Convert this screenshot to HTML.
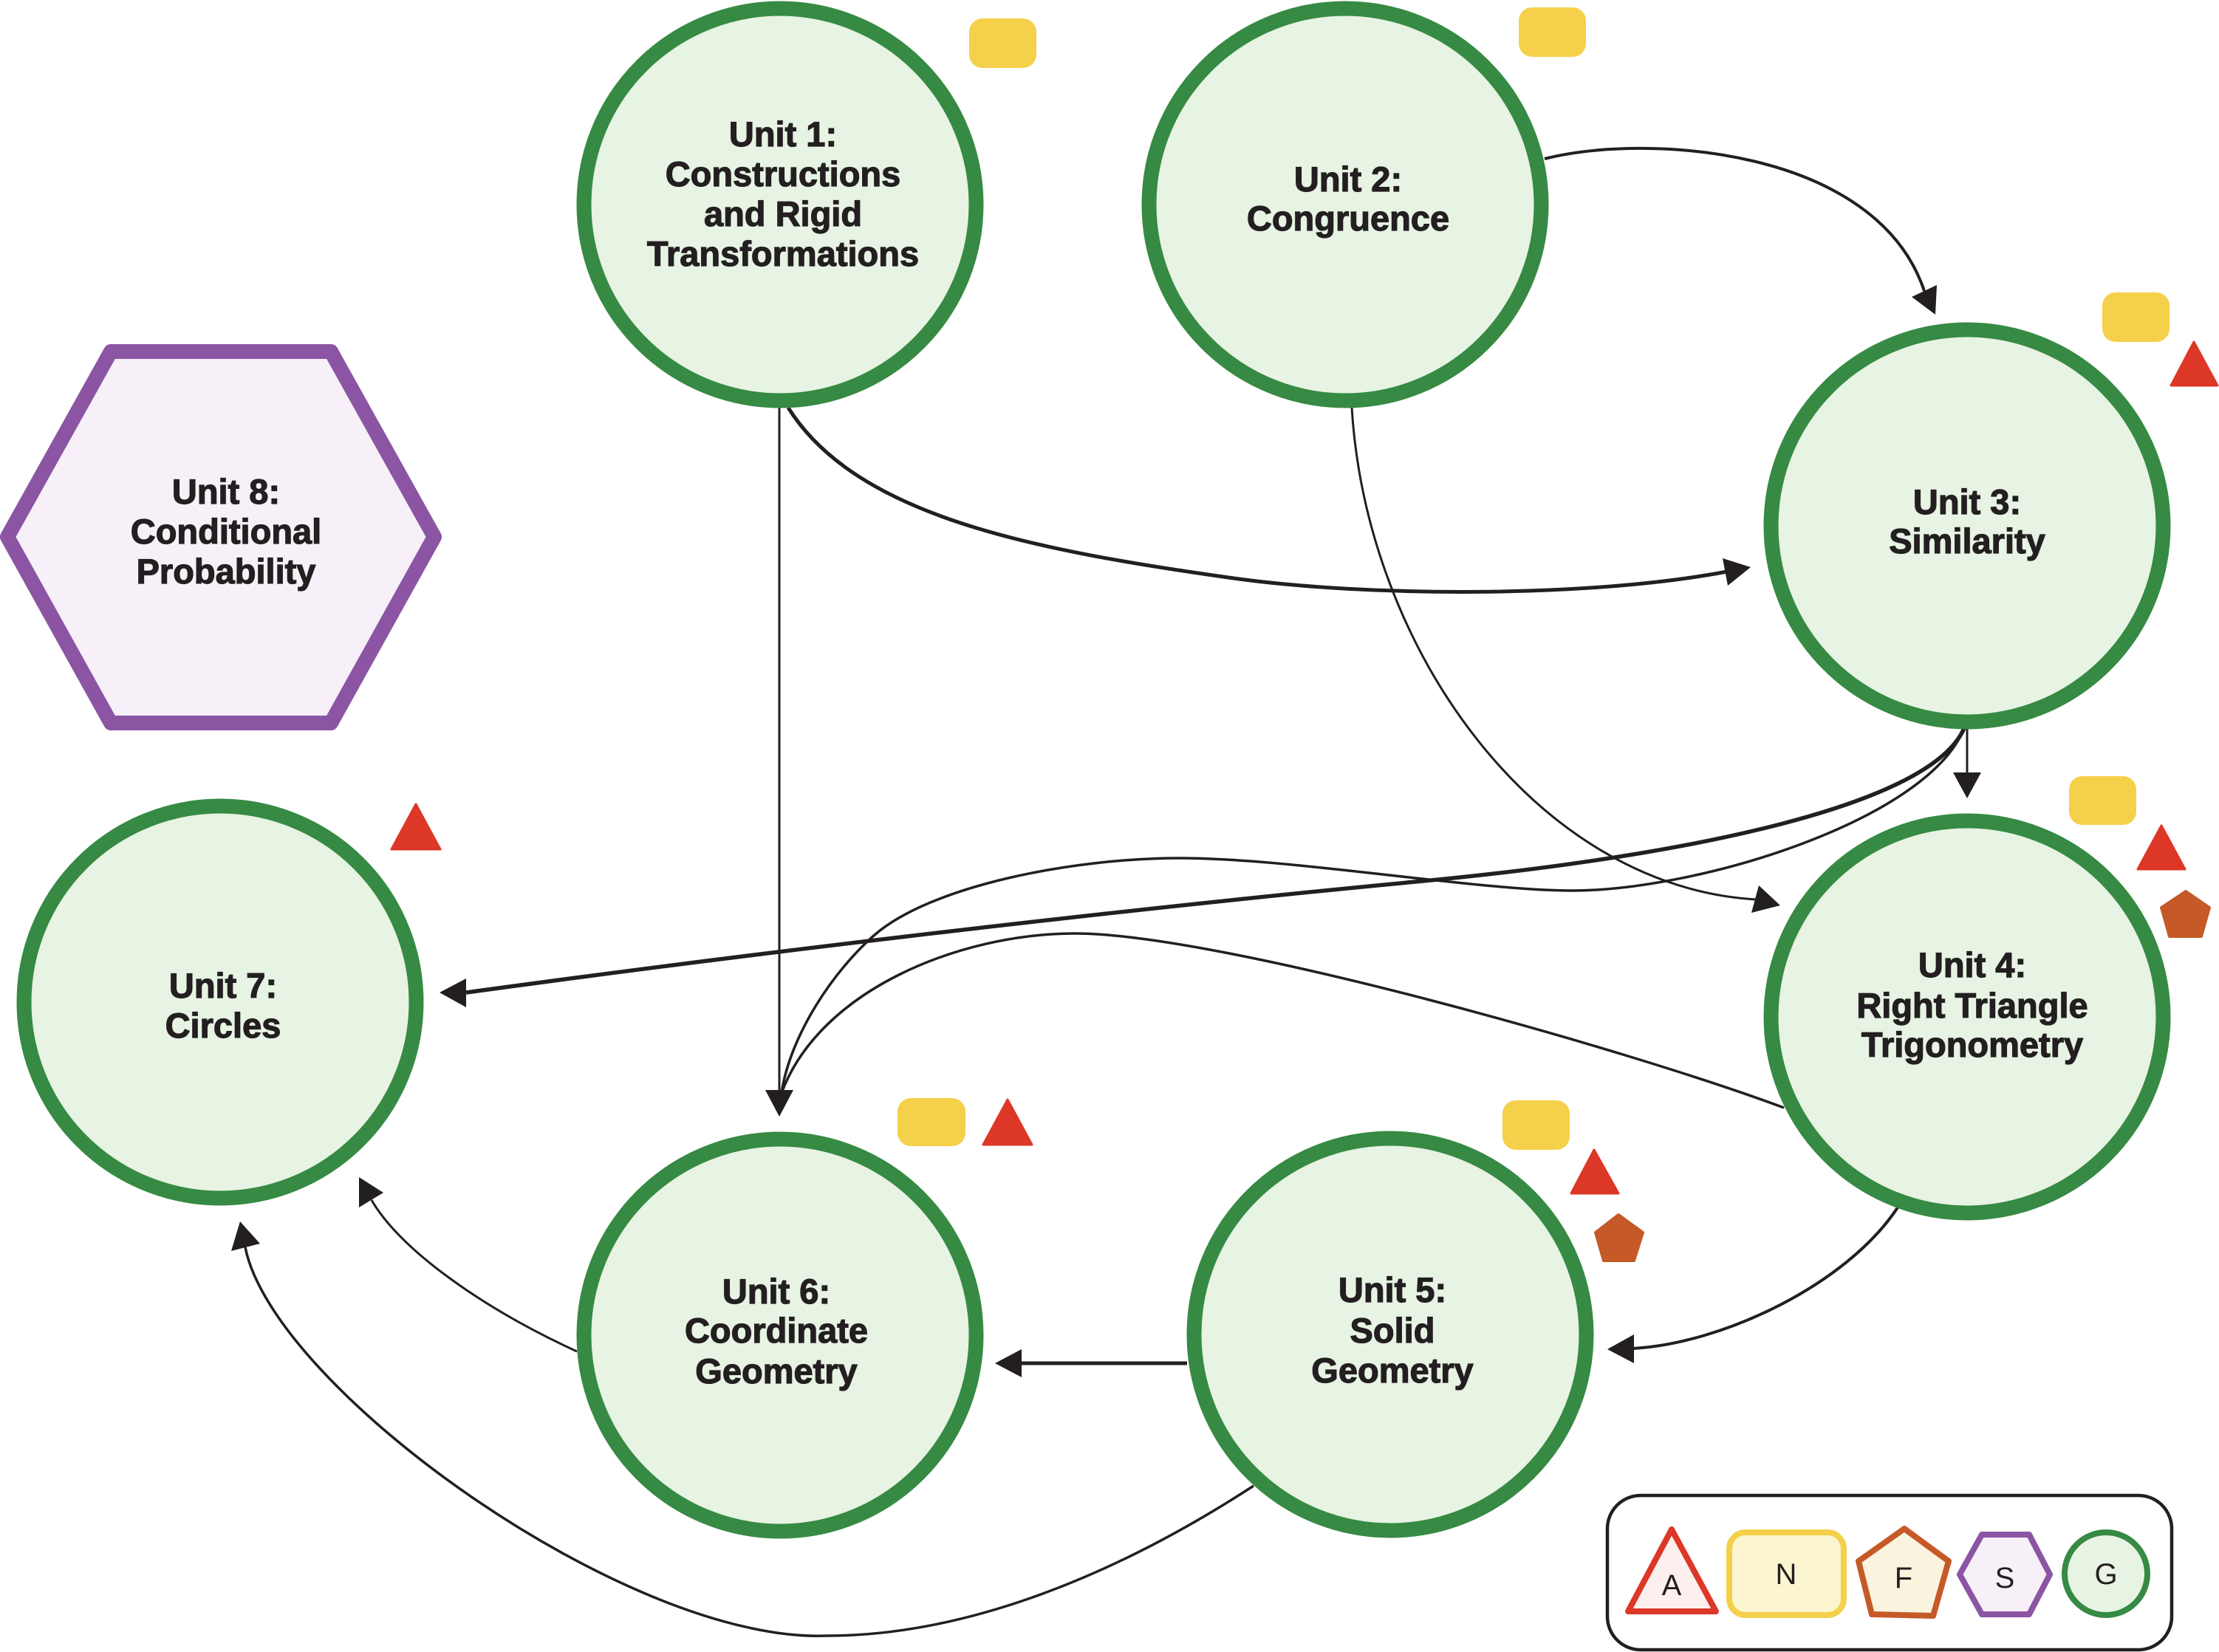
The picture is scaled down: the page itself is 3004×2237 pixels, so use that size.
<!DOCTYPE html>
<html>
<head>
<meta charset="utf-8">
<style>
  html, body { margin: 0; padding: 0; background: #ffffff; }
  svg { display: block; }
  .lbl { font-family: "Liberation Sans", Arial, sans-serif; font-weight: bold; font-size: 47px; fill: #231f20; stroke: #231f20; stroke-width: 1.2; text-anchor: middle; }
  .leg { font-family: "Liberation Sans", Arial, sans-serif; font-weight: normal; font-size: 40px; fill: #231f20; text-anchor: middle; }
  .edge { fill: none; stroke: #231f20; stroke-linecap: butt; }
  .node { fill: #e7f3e3; stroke: #368a43; stroke-width: 20; }
</style>
</head>
<body>
<svg width="3004" height="2237" viewBox="0 0 3004 2237" xmlns="http://www.w3.org/2000/svg">
  <rect x="0" y="0" width="3004" height="2237" fill="#ffffff"/>

  <!-- ========== EDGES ========== -->
  <!-- Unit2 -> Unit3 -->
  <path class="edge" stroke-width="4" d="M2091,215 C2230,180 2540,200 2605,394"/>
  <polygon fill="#231f20" points="2620,426 2622,386 2588,402"/>

  <!-- Unit1 -> Unit3 -->
  <path class="edge" stroke-width="5" d="M1067,552 C1160,700 1400,745 1670,783 C1850,808 2148,810 2338,774"/>
  <polygon fill="#231f20" points="2370,768 2339,793 2332,756"/>

  <!-- Unit1 -> Unit6 vertical -->
  <path class="edge" stroke-width="3" d="M1055,552 L1055,1480"/>
  <polygon fill="#231f20" points="1055,1512 1036,1476 1074,1476"/>

  <!-- Unit2 -> Unit4 -->
  <path class="edge" stroke-width="3" d="M1830,552 C1850,880 2080,1200 2377,1218"/>
  <polygon fill="#231f20" points="2410,1226 2371,1236 2381,1199"/>

  <!-- Unit3 -> Unit4 vertical -->
  <path class="edge" stroke-width="3" d="M2663,986 L2663,1050"/>
  <polygon fill="#231f20" points="2663,1081 2644,1046 2682,1046"/>

  <!-- Unit3 -> Unit7 -->
  <path class="edge" stroke-width="5.5" d="M2659,986 C2610,1100 2230,1165 1916,1194 C1516,1232 1031,1289 631,1344"/>
  <polygon fill="#231f20" points="595,1344 631,1325 631,1364"/>

  <!-- Unit3 -> Unit6 loop -->
  <path class="edge" stroke-width="3.5" d="M2659,986 C2610,1110 2300,1206 2128,1206 C2000,1206 1750,1162 1597,1162 C1450,1162 1260,1200 1184,1266 C1130,1313 1070,1400 1058,1480"/>

  <!-- Unit4 -> Unit6 -->
  <path class="edge" stroke-width="3.5" d="M2415,1500 C2200,1420 1650,1264 1455,1264 C1300,1264 1110,1340 1058,1480"/>

  <!-- Unit4 -> Unit5 -->
  <path class="edge" stroke-width="4" d="M2569,1635 C2500,1740 2330,1820 2210,1826"/>
  <polygon fill="#231f20" points="2176,1827 2212,1807 2212,1846"/>

  <!-- Unit5 -> Unit6 -->
  <path class="edge" stroke-width="5" d="M1607,1846 L1380,1846"/>
  <polygon fill="#231f20" points="1347,1846 1383,1827 1383,1865"/>

  <!-- Unit6 -> Unit7 -->
  <path class="edge" stroke-width="3" d="M781,1830 C650,1770 540,1690 503,1625"/>
  <polygon fill="#231f20" points="486,1594 519,1615 486,1635"/>

  <!-- Unit5 -> Unit7 -->
  <path class="edge" stroke-width="3.5" d="M1697,2012 C1500,2140 1300,2215 1119,2215 C850,2225 370,1880 332,1689"/>
  <polygon fill="#231f20" points="325,1654 313,1694 352,1684"/>

  <!-- ========== NODES ========== -->
  <circle class="node" cx="1056" cy="277" r="265.5"/>
  <circle class="node" cx="1821" cy="277" r="265.5"/>
  <circle class="node" cx="2663" cy="712" r="265.5"/>
  <circle class="node" cx="2663" cy="1377" r="265.5"/>
  <circle class="node" cx="1882" cy="1807" r="265.5"/>
  <circle class="node" cx="1056" cy="1808" r="265.5"/>
  <circle class="node" cx="298" cy="1357" r="265.5"/>

  <!-- Unit 8 hexagon -->
  <polygon points="10,727 150,476 448,476 588,727 448,979 150,979" fill="#f7f0f8" stroke="#8b55a3" stroke-width="20" stroke-linejoin="round"/>

  <!-- ========== LABELS ========== -->
  <text class="lbl" x="1060" y="198">Unit 1:</text>
  <text class="lbl" x="1060" y="252">Constructions</text>
  <text class="lbl" x="1060" y="306">and Rigid</text>
  <text class="lbl" x="1060" y="360">Transformations</text>

  <text class="lbl" x="1825" y="259">Unit 2:</text>
  <text class="lbl" x="1825" y="312">Congruence</text>

  <text class="lbl" x="2663" y="696">Unit 3:</text>
  <text class="lbl" x="2663" y="749">Similarity</text>

  <text class="lbl" x="2670" y="1323">Unit 4:</text>
  <text class="lbl" x="2670" y="1378">Right Triangle</text>
  <text class="lbl" x="2670" y="1431">Trigonometry</text>

  <text class="lbl" x="1885" y="1763">Unit 5:</text>
  <text class="lbl" x="1885" y="1818">Solid</text>
  <text class="lbl" x="1885" y="1872">Geometry</text>

  <text class="lbl" x="1051" y="1765">Unit 6:</text>
  <text class="lbl" x="1051" y="1818">Coordinate</text>
  <text class="lbl" x="1051" y="1873">Geometry</text>

  <text class="lbl" x="302" y="1351">Unit 7:</text>
  <text class="lbl" x="302" y="1405">Circles</text>

  <text class="lbl" x="306" y="682">Unit 8:</text>
  <text class="lbl" x="306" y="736">Conditional</text>
  <text class="lbl" x="306" y="790">Probability</text>

  <!-- ========== BADGES ========== -->
  <rect x="1312" y="25" width="91" height="67" rx="18" fill="#f5d04a"/>
  <rect x="2056" y="10" width="91" height="67" rx="18" fill="#f5d04a"/>
  <rect x="2846" y="396" width="91" height="67" rx="18" fill="#f5d04a"/>
  <polygon points="2970,463 2939,522 3002,522" fill="#dc3727" stroke="#dc3727" stroke-width="3" stroke-linejoin="round"/>
  <rect x="2801" y="1051" width="91" height="66" rx="18" fill="#f5d04a"/>
  <polygon points="2926,1118 2894,1177 2958,1177" fill="#dc3727" stroke="#dc3727" stroke-width="3" stroke-linejoin="round"/>
  <polygon points="2959,1207 2926,1229 2937,1268 2980,1268 2991,1229" fill="#c55a28" stroke="#c55a28" stroke-width="4" stroke-linejoin="round"/>
  <polygon points="563,1089 530,1150 596,1150" fill="#dc3727" stroke="#dc3727" stroke-width="3" stroke-linejoin="round"/>
  <rect x="1215" y="1487" width="92" height="65" rx="18" fill="#f5d04a"/>
  <polygon points="1364,1489 1331,1550 1397,1550" fill="#dc3727" stroke="#dc3727" stroke-width="3" stroke-linejoin="round"/>
  <rect x="2034" y="1490" width="91" height="67" rx="18" fill="#f5d04a"/>
  <polygon points="2158,1557 2127,1616 2191,1616" fill="#dc3727" stroke="#dc3727" stroke-width="3" stroke-linejoin="round"/>
  <polygon points="2191,1645 2160,1669 2171,1707 2212,1707 2224,1669" fill="#c55a28" stroke="#c55a28" stroke-width="4" stroke-linejoin="round"/>

  <!-- ========== LEGEND ========== -->
  <rect x="2176" y="2025" width="764" height="209" rx="45" fill="#ffffff" stroke="#231f20" stroke-width="4.5"/>
  <polygon points="2263,2071 2204,2182 2323,2182" fill="#fcefed" stroke="#dc3727" stroke-width="8" stroke-linejoin="round"/>
  <rect x="2341" y="2075" width="155" height="112" rx="22" fill="#fbf5d0" stroke="#f5d04a" stroke-width="8"/>
  <polygon points="2578,2070 2516,2114 2534,2186 2617,2188 2638,2114" fill="#faf3de" stroke="#c55a28" stroke-width="8" stroke-linejoin="round"/>
  <polygon points="2653,2132 2683,2078 2747,2078 2775,2132 2747,2186 2683,2186" fill="#f7f0f8" stroke="#8b55a3" stroke-width="8" stroke-linejoin="round"/>
  <circle cx="2851" cy="2131" r="56" fill="#e7f3e3" stroke="#368a43" stroke-width="8"/>
  <text class="leg" x="2263" y="2160">A</text>
  <text class="leg" x="2418" y="2145">N</text>
  <text class="leg" x="2577" y="2150">F</text>
  <text class="leg" x="2714" y="2150">S</text>
  <text class="leg" x="2851" y="2145">G</text>
</svg>
</body>
</html>
